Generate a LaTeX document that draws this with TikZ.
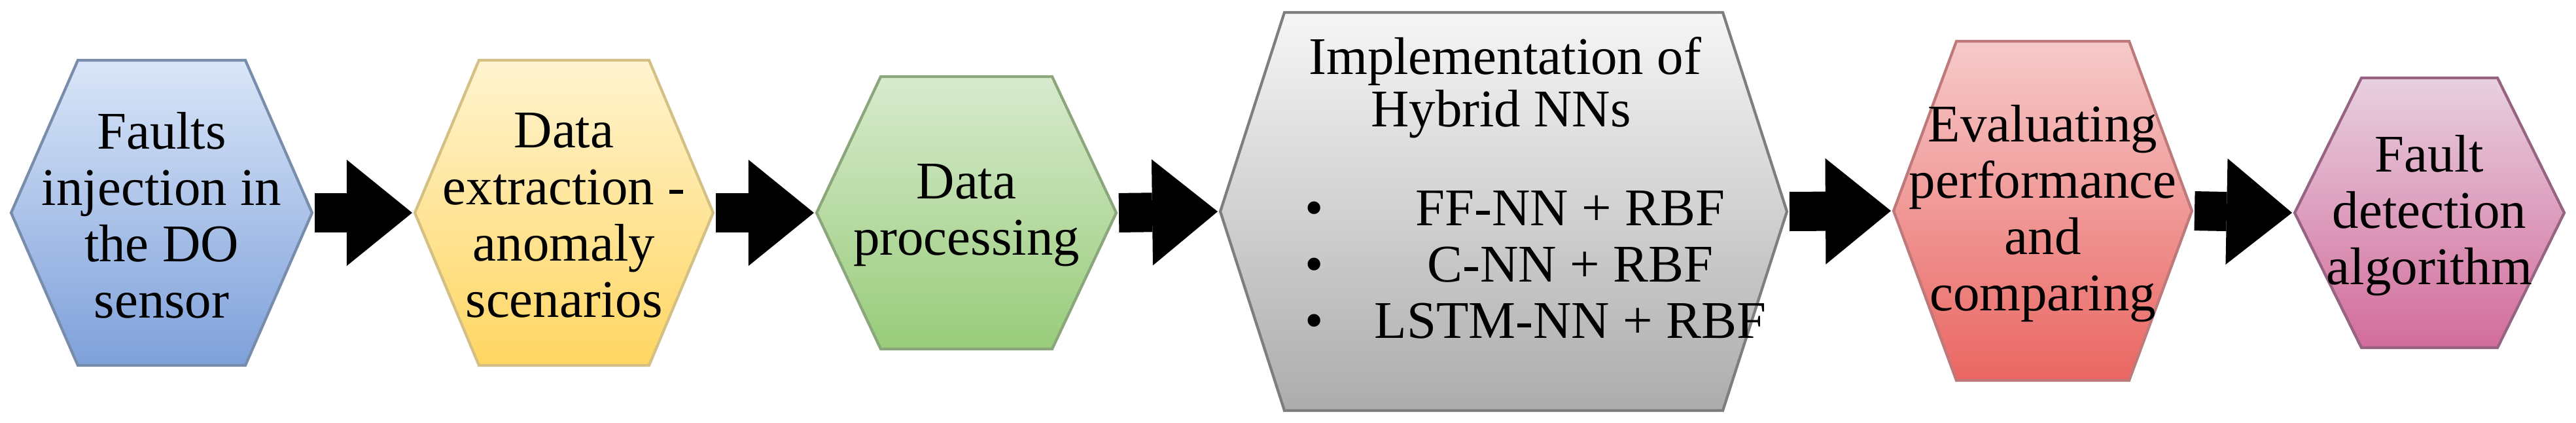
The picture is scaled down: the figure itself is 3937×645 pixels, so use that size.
\documentclass[tikz,border=0pt]{standalone}
\usepackage{fontspec}
\setmainfont{Liberation Serif}
\usetikzlibrary{arrows.meta}

\definecolor{bluetop}{RGB}{218,230,248}
\definecolor{bluebot}{RGB}{126,160,218}
\definecolor{blueline}{RGB}{120,140,172}
\definecolor{yellowtop}{RGB}{255,244,208}
\definecolor{yellowbot}{RGB}{255,214,98}
\definecolor{yellowline}{RGB}{212,192,132}
\definecolor{greentop}{RGB}{216,234,206}
\definecolor{greenbot}{RGB}{152,204,122}
\definecolor{greenline}{RGB}{140,166,124}
\definecolor{graytop}{RGB}{246,246,246}
\definecolor{graybot}{RGB}{172,172,172}
\definecolor{grayline}{RGB}{126,126,126}
\definecolor{redtop}{RGB}{246,202,202}
\definecolor{redbot}{RGB}{234,102,98}
\definecolor{redline}{RGB}{190,122,122}
\definecolor{pinktop}{RGB}{232,208,224}
\definecolor{pinkbot}{RGB}{210,108,154}
\definecolor{pinkline}{RGB}{150,100,130}

\tikzset{
    hexbox/.style={draw=#1line, line width=1.2pt, top color=#1top, bottom color=#1bot},
    hextext/.style={font=\fontsize{23}{24.5}\selectfont, align=center, inner sep=0pt},
    blockarrow/.style={line width=0.6cm, -{Triangle[length=1cm, width=1.62cm, line width=0pt]},
        shorten <=0.04cm, shorten >=0.04cm}
}

\begin{document}
\begin{tikzpicture}[x=0.01cm, y=-0.01cm]
    \useasboundingbox (0,0) rectangle (3937,645);

    % hexagons: name/centre x/centre y/half width/half top/half height/colour/text
    \foreach \n/\cx/\cy/\hw/\tw/\hh/\c/\txt in {%
        1/247/325/230/128/233/blue/{Faults\\injection in\\the DO\\sensor},
        2/862/325/228/130/233/yellow/{Data\\extraction -\\anomaly\\scenarios},
        3/1477/325/229/131/208/green/{Data\\processing},
        4/2298/323/433/335/304/gray/{},
        5/3122/322/228/132/259/red/{Evaluating\\performance\\and\\comparing},
        6/3713/325/206/104/206/pink/{Fault\\detection\\algorithm}%
        }{
        \path[hexbox=\c] (\cx-\hw,\cy) -- (\cx-\tw,\cy-\hh) -- (\cx+\tw,\cy-\hh)
            -- (\cx+\hw,\cy) -- (\cx+\tw,\cy+\hh) -- (\cx-\tw,\cy+\hh) -- cycle;
        \coordinate (h\n-w) at (\cx-\hw,\cy);
        \coordinate (h\n-e) at (\cx+\hw,\cy);
        \node[hextext] (h\n) at (\cx,\cy+4) {\txt};
    }

    % text of the big grey step
    \node[hextext, anchor=base] (imp1) at (2300,113) {Implementation of};
    \node[hextext, anchor=base] (imp2) at (2294,193) {Hybrid NNs};
    \foreach \t [count=\i] in {FF-NN + RBF, C-NN + RBF, LSTM-NN + RBF}{
        \node[hextext, anchor=base] (b\i) at (2009,258+86*\i) {\textbullet};
        \node[hextext, anchor=base] (m\i) at (2400,258+86*\i) {\t};
    }

    \foreach \u/\v in {1/2, 2/3, 3/4, 4/5, 5/6}{
        \draw[blockarrow] (h\u-e) -- (h\v-w);
    }
\end{tikzpicture}
\end{document}
